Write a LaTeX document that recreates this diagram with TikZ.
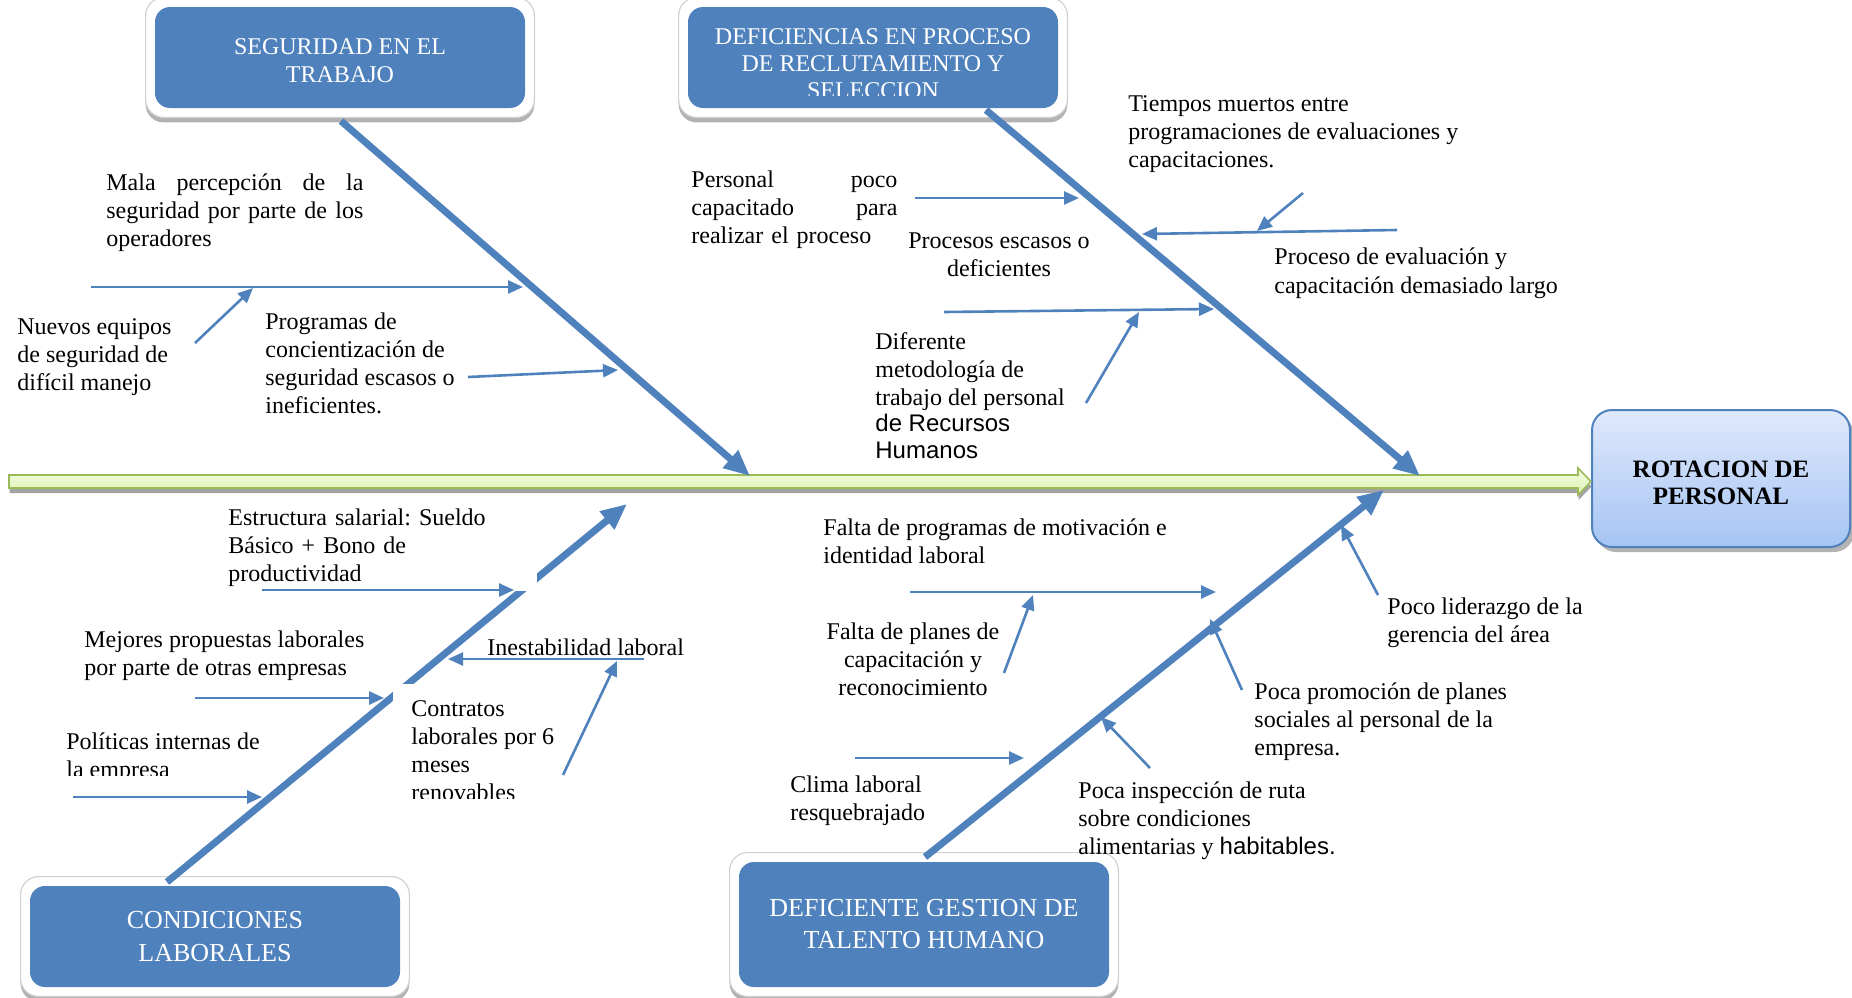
\documentclass[tikz,border=0pt]{standalone}
\usepackage{fontspec}
\setmainfont{Liberation Serif}
\newfontfamily\sansf{Liberation Sans}
\usetikzlibrary{arrows.meta,calc,shadows,fit,backgrounds}
\definecolor{boneblue}{RGB}{79,129,189}
\definecolor{spineedge}{RGB}{155,187,89}
\definecolor{spinetop}{RGB}{244,252,226}
\definecolor{spinebot}{RGB}{220,242,178}
\definecolor{efftop}{RGB}{223,233,252}
\definecolor{effbot}{RGB}{166,196,243}
\frenchspacing
\begin{document}
\begin{tikzpicture}[x=0.5pt,y=-0.5pt,
  lbl/.style={anchor=north west, inner sep=0pt, align=left, font=\fontsize{12}{14}\selectfont},
  lblc/.style={lbl, anchor=north, align=center},
  catbox/.style={fill=boneblue, rounded corners=7.5pt, text=white, align=center,
    minimum width=185pt, minimum height=50.5pt, inner sep=0pt, font=\fontsize{12}{14}\selectfont},
  catframe/.style={fill=white, draw=black!18, line width=0.6pt, rounded corners=9pt, inner sep=4.5pt,
    drop shadow={shadow xshift=0pt, shadow yshift=-2.5pt, opacity=0.55, fill=black!55}},
  bone/.style={draw=boneblue, line width=3.5pt, -{Triangle[length=13pt,width=11pt]}},
  rib/.style={draw=boneblue, line width=1.3pt, -{Triangle[length=7.5pt,width=6.5pt]}},
]
\useasboundingbox (0,0) rectangle (1852,997);

% effect box
\node[draw=boneblue, line width=1pt, rounded corners=10pt, top color=efftop, bottom color=effbot,
      minimum width=129pt, minimum height=68.5pt, inner sep=0pt,
      drop shadow={shadow xshift=2pt, shadow yshift=-2.5pt, fill=black!50, opacity=0.6}]
      (eff) at (1721,478.5) {};
\node[font=\bfseries\fontsize{12.5}{13.5}\selectfont, align=center, inner sep=0pt]
      (efftext) at ($(eff.center)+(0,4)$) {ROTACION DE\\PERSONAL};

% spine
\coordinate (tail) at (9,481.5);
\coordinate (spinetip) at (eff.west |- tail);
\draw[draw=spineedge, line width=0.8pt, top color=spinetop, bottom color=spinebot,
      drop shadow={shadow xshift=0.3pt, shadow yshift=-2.5pt, fill=black!40, opacity=0.9}]
  ($(tail)+(0,-6.5)$) -- ($(spinetip)+(-13,-6.5)$) -- ($(spinetip)+(-13,-13.5)$) -- (spinetip)
  -- ($(spinetip)+(-13,13.5)$) -- ($(spinetip)+(-13,6.5)$) -- ($(tail)+(0,6.5)$) -- cycle;

% category boxes
\node[catbox] (seg) at (340,57.5) {};
\node[text=white, align=center, inner sep=0pt, font=\fontsize{12}{14}\selectfont]
  (segtext) at ($(seg.center)+(0,3)$) {SEGURIDAD EN EL\\TRABAJO};
\node[catbox] (rec) at (873,57.5) {};
\begin{scope}
  \clip (680,0) rectangle (1070,95);
  \node[text=white, align=center, inner sep=0pt, font=\fontsize{12}{13.5}\selectfont]
    (rectext) at (873,64) {DEFICIENCIAS EN PROCESO\\DE RECLUTAMIENTO Y\\SELECCION};
\end{scope}
\node[catbox, font=\fontsize{13}{16.5}\selectfont] (cond) at (215,936.5) {CONDICIONES\\LABORALES};
\node[catbox, minimum height=62.5pt, font=\fontsize{13}{16}\selectfont] (tal) at (924,924.5) {DEFICIENTE GESTION DE\\TALENTO HUMANO};
\begin{scope}[on background layer]
  \node[catframe, fit=(seg)] (segframe) {};
  \node[catframe, fit=(rec)] (recframe) {};
  \node[catframe, fit=(cond)] (condframe) {};
  \node[catframe, fit=(tal)] (talframe) {};
\end{scope}

% bones
\coordinate (b1s) at (341,121);  \coordinate (b1e) at (750,476);
\coordinate (b2s) at (986,110);  \coordinate (b2e) at (1420,476);
\coordinate (b3s) at (167,882);  \coordinate (b3e) at (627,504);
\coordinate (b4s) at (925,857);  \coordinate (b4e) at (1384,490);
\draw[bone] (b1s) -- (b1e);
\draw[bone] (b2s) -- (b2e);
\draw[bone] (b3s) -- (b3e);
\draw[bone] (b4s) -- (b4e);

% text boxes with white backgrounds
\node[lbl, text width=154.5pt, fill=white, inner ysep=2.5pt] (estructura) at (228,503)
  {Estructura salarial: Sueldo\\Básico + Bono de\\productividad};
\node[anchor=north west, fill=white, inner sep=0pt, minimum width=83.5pt, minimum height=57pt] (contbox) at (393,684) {};
\begin{scope}
  \clip (contbox.north west) rectangle (contbox.south east);
  \node[lbl] (contratos) at (411,700) {Contratos\\laborales por 6\\meses\\renovables};
\end{scope}
\begin{scope}
  \clip (60,725) rectangle (320,775);
  \node[lbl] (politicas) at (66,732) {Políticas internas de\\la empresa};
\end{scope}

% labels
\node[lbl, text width=128.5pt] (mala) at (106,173)
  {Mala\hfill percepción\hfill de\hfill la\\seguridad\hfill por\hfill parte\hfill de\hfill los\\operadores};
\node[lbl] (nuevos) at (17,318) {Nuevos equipos\\de seguridad de\\difícil manejo};
\node[lbl] (programas) at (265,312) {Programas de\\concientización de\\seguridad escasos o\\ineficientes.};
\node[lbl, text width=103pt] (personal) at (691,170)
  {Personal\hfill poco\\capacitado\hfill para\\realizar el proceso};
\node[lblc] (procesos) at (999,232) {Procesos escasos o\\deficientes};
\node[lbl] (diferente) at (875,332)
  {Diferente\\metodología de\\trabajo del personal\\[-0.75pt]{\sansf de Recursos}\\[-0.5pt]{\sansf Humanos}};
\node[lbl] (tiempos) at (1128,95) {Tiempos muertos entre\\programaciones de evaluaciones y\\capacitaciones.};
\node[lbl, font=\fontsize{12}{14.5}\selectfont] (proceso) at (1274,247) {Proceso de evaluación y\\capacitación demasiado largo};
\node[lbl] (mejores) at (84,630) {Mejores propuestas laborales\\por parte de otras empresas};
\node[lbl] (inestabilidad) at (487,638) {Inestabilidad laboral};
\node[lbl] (faltaprog) at (823,518) {Falta de programas de motivación e\\identidad laboral};
\node[lblc] (faltaplan) at (913,622) {Falta de planes de\\capacitación y\\reconocimiento};
\node[lbl] (clima) at (790,775) {Clima laboral\\resquebrajado};
\node[lbl] (inspeccion) at (1078,781) {Poca inspección de ruta\\sobre condiciones\\alimentarias y {\sansf habitables.}};
\node[lbl] (promocion) at (1254,682) {Poca promoción de planes\\sociales al personal de la\\empresa.};
\node[lbl] (liderazgo) at (1387,597) {Poco liderazgo de la\\gerencia del área};

% rib arrows
\coordinate (r1s) at (91,287);    \coordinate (r1e) at (523,287);
\coordinate (r2s) at (195,343);   \coordinate (r2e) at (253,288);
\coordinate (r3s) at (468,377);   \coordinate (r3e) at (618,370);
\coordinate (r4s) at (915,198);   \coordinate (r4e) at (1079,198);
\coordinate (r5s) at (944,312);   \coordinate (r5e) at (1214,309);
\coordinate (r6s) at (1086,403);  \coordinate (r6e) at (1139,312);
\coordinate (r7s) at (1397,230);  \coordinate (r7e) at (1142,234);
\coordinate (r8s) at (1303,193);  \coordinate (r8e) at (1257,231);
\coordinate (r9s) at (262,590);   \coordinate (r9e) at (514,590);
\coordinate (r10s) at (195,698);  \coordinate (r10e) at (384,698);
\coordinate (r11s) at (73,797);   \coordinate (r11e) at (262,797);
\coordinate (r12s) at (644,659);  \coordinate (r12e) at (448,659);
\coordinate (r13s) at (563,775);  \coordinate (r13e) at (617,661);
\coordinate (r14s) at (910,592);  \coordinate (r14e) at (1216,592);
\coordinate (r15s) at (1004,673); \coordinate (r15e) at (1033,595);
\coordinate (r16s) at (855,758);  \coordinate (r16e) at (1024,758);
\coordinate (r17s) at (1150,768); \coordinate (r17e) at (1101,717);
\coordinate (r18s) at (1242,690); \coordinate (r18e) at (1210,619);
\coordinate (r19s) at (1378,595); \coordinate (r19e) at (1341,525);
\foreach \r in {1,...,19} {\draw[rib] (r\r s) -- (r\r e);}

\end{tikzpicture}
\end{document}
